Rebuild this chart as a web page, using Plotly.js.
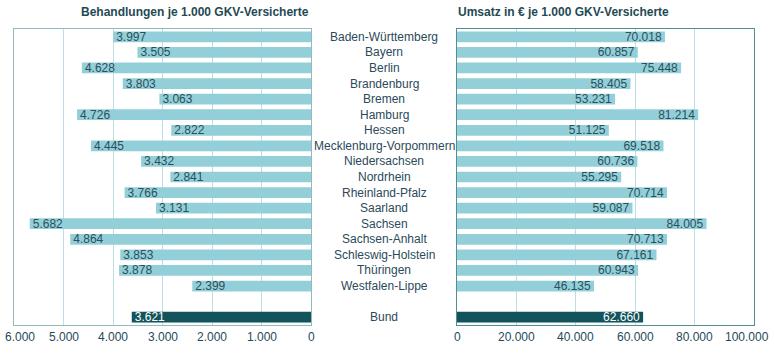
<!DOCTYPE html>
<html>
<head>
<meta charset="utf-8">
<script src="https://cdn.plot.ly/plotly-3.0.1.min.js"></script>
<style>html,body{margin:0;padding:0;background:#fff;}#chart{width:774px;height:353px;}</style>
</head>
<body>
<div id="chart"></div>
<script>
const states = ["Baden-Württemberg","Bayern","Berlin","Brandenburg","Bremen","Hamburg","Hessen","Mecklenburg-Vorpommern","Niedersachsen","Nordrhein","Rheinland-Pfalz","Saarland","Sachsen","Sachsen-Anhalt","Schleswig-Holstein","Thüringen","Westfalen-Lippe"];
const behandlungen = [3997,3505,4628,3803,3063,4726,2822,4445,3432,2841,3766,3131,5682,4864,3853,3878,2399];
const umsatz = [70018,60857,75448,58405,53231,81214,51125,69518,60736,55295,70714,59087,84005,70713,67161,60943,46135];
const bundLabel = "Bund";
const bundBehandlungen = 3621;
const bundUmsatz = 62660;
const gapLabel = " ";
const leftTitle = "Behandlungen je 1.000 GKV-Versicherte";
const rightTitle = "Umsatz in € je 1.000 GKV-Versicherte";
const leftTicks = [6000,5000,4000,3000,2000,1000,0];
const leftTickText = ["6.000","5.000","4.000","3.000","2.000","1.000","0"];
const rightTicks = [0,20000,40000,60000,80000,100000];
const rightTickText = ["0","20.000","40.000","60.000","80.000","100.000"];

const light = "#93cfd9", dark = "#13535c", txt = "#2b4f5b";
const cats = states.concat([gapLabel, bundLabel]);
const yLeft = states.concat([bundLabel]);
const xLeft = behandlungen.concat([bundBehandlungen]);
const xRight = umsatz.concat([bundUmsatz]);
const colors = states.map(() => light).concat([dark]);
const tcolors = states.map(() => txt).concat(["#ffffff"]);
const font = "'Liberation Sans', Arial, sans-serif";

const traces = [
  {type:"bar", orientation:"h", x:xLeft, y:yLeft, xaxis:"x", yaxis:"y",
   marker:{color:colors}, texttemplate:"%{x:,.0f}", textposition:"inside", insidetextanchor:"end",
   textfont:{family:font, size:12, color:tcolors}, constraintext:"none", hoverinfo:"skip"},
  {type:"bar", orientation:"h", x:xRight, y:yLeft, xaxis:"x2", yaxis:"y2",
   marker:{color:colors}, texttemplate:"%{x:,.0f}", textposition:"inside", insidetextanchor:"end",
   textfont:{family:font, size:12, color:tcolors}, constraintext:"none", hoverinfo:"skip"}
];

const annotations = states.concat([bundLabel]).map(s => ({
  text:s, xref:"paper", yref:"y", x:384/774, y:s, xanchor:"center", yanchor:"middle",
  showarrow:false, font:{family:font, size:12, color:"#2b4a5a"}
}));
annotations.push({text:"<b>"+leftTitle+"</b>", xref:"paper", yref:"paper", x:311/774, y:1, yshift:17,
  xanchor:"right", yanchor:"middle", showarrow:false, font:{family:font, size:12, color:"#1f4a55"}});
annotations.push({text:"<b>"+rightTitle+"</b>", xref:"paper", yref:"paper", x:456/774, y:1, yshift:17,
  xanchor:"left", yanchor:"middle", showarrow:false, font:{family:font, size:12, color:"#1f4a55"}});
// axis tick labels (edge labels nudged inward like the original)
leftTicks.forEach((v, i) => annotations.push({text:leftTickText[i], xref:"x", yref:"paper", x:v, y:0, yshift:-12,
  xshift: i === 0 ? 6 : 0, xanchor:"center", yanchor:"middle", showarrow:false,
  font:{family:font, size:12, color:"#1f4a5a"}}));
rightTicks.forEach((v, i) => annotations.push({text:rightTickText[i], xref:"x2", yref:"paper", x:v, y:0, yshift:-12,
  xshift: i === rightTicks.length-1 ? -7 : 0, xanchor:"center", yanchor:"middle", showarrow:false,
  font:{family:font, size:12, color:"#1f4a5a"}}));

const layout = {
  width:774, height:353, margin:{l:0, r:0, t:29, b:28},
  paper_bgcolor:"#fff", plot_bgcolor:"#fff", showlegend:false,
  separators:",.", bargap:0.31,
  font:{family:font, size:12, color:"#2b4a5a"},
  xaxis:{domain:[14/774, 311/774], range:[6000,0], tickvals:leftTicks, showticklabels:false,
    showgrid:true, gridcolor:"#b9dfe5", zeroline:false, showline:true, mirror:true, linecolor:"#92b9bc",
    ticks:"", fixedrange:true},
  yaxis:{anchor:"x", type:"category", categoryorder:"array", categoryarray:cats, range:[cats.length-0.5,-0.5],
    showticklabels:false, showgrid:false, showline:true, mirror:true, linecolor:"#92b9bc", ticks:""},
  xaxis2:{domain:[457/774, 754/774], range:[0,100000], tickvals:rightTicks, showticklabels:false,
    showgrid:true, gridcolor:"#b9dfe5", zeroline:false, showline:true, mirror:true, linecolor:"#4f9191",
    ticks:"", fixedrange:true},
  yaxis2:{anchor:"x2", type:"category", categoryorder:"array", categoryarray:cats, range:[cats.length-0.5,-0.5],
    showticklabels:false, showgrid:false, showline:true, mirror:true, linecolor:"#4f9191", ticks:""},
  annotations:annotations
};

Plotly.newPlot("chart", traces, layout, {displayModeBar:false, staticPlot:true});
</script>
</body>
</html>
